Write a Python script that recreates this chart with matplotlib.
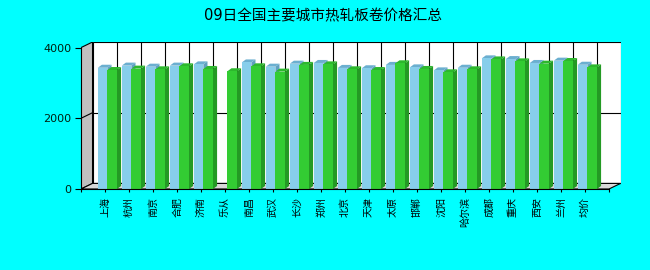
import numpy as np
import matplotlib
matplotlib.use("Agg")
import matplotlib.pyplot as plt
from matplotlib.patches import Polygon

plt.rcParams['font.family'] = ['DejaVu Sans', 'Noto Sans CJK SC']

title = "09日全国主要城市热轧板卷价格汇总"
cities = ["上海", "杭州", "南京", "合肥", "济南", "乐从", "南昌", "武汉", "长沙", "郑州",
          "北京", "天津", "太原", "邯郸", "沈阳", "哈尔滨", "成都", "重庆", "西安", "兰州", "均价"]
series_a = [3430, 3490, 3460, 3490, 3525, np.nan, 3580, 3460, 3545, 3565,
            3425, 3415, 3510, 3440, 3355, 3430, 3695, 3675, 3565, 3630, 3515]
series_b = [3365, 3405, 3385, 3470, 3395, 3330, 3470, 3320, 3510, 3525,
            3385, 3365, 3555, 3395, 3300, 3385, 3665, 3610, 3545, 3620, 3440]
yticks = [0, 2000, 4000]

BG = '#00FFFF'
LW = 0.8
fig = plt.figure(figsize=(6.5, 2.7), dpi=100, facecolor=BG)
ax = fig.add_axes([81/650, (270-189)/270, 540/650, 147/270])
ax.set_facecolor('none')

n = len(cities)
xmax = n + 1
dx = 0.48          # depth offset of walls (x units)
dy = 158           # depth offset of walls (y units)
ax.set_xlim(0, xmax + 0.5)
ax.set_ylim(0, 4000 + dy)

top = 4000
# back wall
ax.add_patch(Polygon([(dx, dy), (xmax + dx, dy), (xmax + dx, top + dy), (dx, top + dy)],
                     closed=True, facecolor='white', edgecolor='black', lw=LW, zorder=0))
# left wall
ax.add_patch(Polygon([(0, 0), (dx, dy), (dx, top + dy), (0, top)],
                     closed=True, facecolor='#C0C0C0', edgecolor='black', lw=LW, zorder=0.5))
# floor
ax.add_patch(Polygon([(0, 0), (xmax, 0), (xmax + dx, dy), (dx, dy)],
                     closed=True, facecolor='#D8D8D8', edgecolor='black', lw=LW, zorder=0.5))
# gridlines
for v in yticks[1:-1]:
    ax.plot([dx, xmax + dx], [v + dy, v + dy], color='black', lw=LW, zorder=1)
    ax.plot([0, dx], [v, v + dy], color='black', lw=LW, zorder=1)
for k in range(1, n + 1):
    ax.plot([k + dx, k + dx], [dy, top + dy], color='black', lw=LW, zorder=1)

# bars
w = 0.4
sd = 0.17
sdy = 85
specs = [(series_a, -0.1, '#87CEEB', '#6BAFD0', '#5FA0C0'),
         (series_b, 0.3, '#33CC33', '#2DB82D', '#249A24')]
z = 2
xs = np.arange(1, n + 1)
for i, c in enumerate(xs):
    for vals, off, cf, ct, cs in specs:
        h = vals[i]
        if np.isnan(h):
            continue
        x0 = c + off - w / 2
        x1 = c + off + w / 2
        ax.add_patch(Polygon([(x1, 0), (x1 + sd, sdy), (x1 + sd, h + sdy), (x1, h)],
                             closed=True, facecolor=cs, edgecolor='none', zorder=z))
        ax.add_patch(Polygon([(x0, h), (x1, h), (x1 + sd, h + sdy), (x0 + sd, h + sdy)],
                             closed=True, facecolor=ct, edgecolor='none', zorder=z))
        ax.bar(c + off, h, width=w, color=cf, edgecolor='none', zorder=z + 0.1)
        z += 0.2

# axes / ticks
for s in ['top', 'right']:
    ax.spines[s].set_visible(False)
ax.spines['left'].set_bounds(0, top)
ax.spines['bottom'].set_bounds(0, xmax)
for s in ['left', 'bottom']:
    ax.spines[s].set_zorder(50)
    ax.spines[s].set_linewidth(LW)
ax.set_yticks(yticks)
ax.set_yticklabels([str(v) for v in yticks], fontsize=8, color='#002010')
ax.tick_params(axis='y', length=4.5, width=LW, pad=2.2)
ax.set_xticks(np.arange(0, xmax + 1))
ax.set_xticklabels([''] + cities + [''], rotation=90, fontsize=7.2,
                   family=['Noto Sans CJK SC', 'DejaVu Sans'], va='top')
ax.tick_params(axis='x', length=2.5, width=LW, pad=3.5)

fig.text(323/650, 1 - 16/270, title, ha='center', va='center', fontsize=10.5,
         family=['DejaVu Sans', 'Noto Sans CJK SC'])

fig.savefig('out.png', dpi=100, facecolor=BG)
